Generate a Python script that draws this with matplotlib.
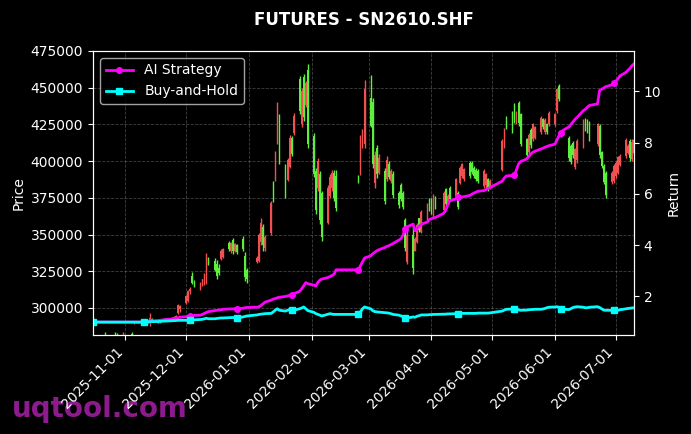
import numpy as np
import pandas as pd
import matplotlib
matplotlib.use('Agg')
import matplotlib.pyplot as plt
import matplotlib.dates as mdates
from matplotlib.ticker import MultipleLocator

# chart data (prices in thousands)
title = 'FUTURES - SN2610.SHF'
start_date = '2025-10-16'
end_date = '2026-07-10'
holidays = ['2026-01-01', '2026-01-02', '2026-02-16', '2026-02-17', '2026-02-18',
            '2026-02-19', '2026-02-20', '2026-02-23', '2026-04-06', '2026-05-01',
            '2026-05-04', '2026-05-05', '2026-06-19']

opens = [
    # Oct
    279.5, 278.6, 279.9, 280.8, 281.4, 280.2, 279.0, 281.5, 281.8, 280.9, 279.6, 281.1,
    # Nov
    281.2, 282.5, 289.5, 290.6, 290.0, 290.8, 290.2, 291.0, 290.4, 292.5,
    292.0, 290.2, 291.6, 292.2, 291.8, 292.0, 293.4, 294.0, 296.4, 299.0,
    # Dec
    303.6, 305.0, 311.8, 321.5, 317.0, 313.0, 316.0, 316.5, 318.0, 333.0, 332.0, 330.0,
    327.5, 333.5, 335.0, 344.0, 338.5, 346.0, 338.5, 343.0, 347.0, 335.5, 326.0,
    # Jan
    331.0, 332.0, 345.0, 355.0, 341.0, 351.0, 385.0, 387.0, 412.0, 430.0,
    396.0, 387.0, 396.0, 416.0, 419.0, 456.0, 425.0, 457.0, 438.0, 462.0,
    # Feb
    417.0, 393.0, 382.0, 391.0, 378.0, 358.0, 376.0, 382.0, 392.0, 390.0, 389.5, 391.0, 410.0, 412.0,
    # Mar
    443.0, 440.0, 385.0, 409.0, 392.0, 393.0, 388.0, 398.0, 386.5, 391.5, 378.0,
    384.0, 378.0, 360.0, 331.5, 350.0, 339.0, 345.0, 361.0, 352.0, 360.0, 374.0,
    # Apr
    373.5, 363.0, 375.0, 367.0, 381.0, 371.5, 382.0, 376.0, 378.5, 385.0, 390.0,
    387.5, 399.0, 398.5, 395.5, 394.0, 393.0, 383.0, 383.5, 387.5, 381.5,
    # May
    394.0, 410.0, 429.5, 433.0, 438.5, 426.0, 439.5, 432.0, 415.0,
    406.0, 421.5, 415.0, 416.0, 419.5, 428.5, 419.5, 425.0, 425.0,
    # Jun
    425.0, 434.0, 451.0, 419.5, 418.0, 416.0, 410.0, 412.5, 396.0, 400.5, 410.5,
    428.5, 427.5, 426.0, 411.5, 424.0, 406.0, 396.5, 392.0, 385.5, 386.5,
    # Jul
    390.0, 392.0, 397.5, 403.5, 405.5, 413.5, 401.5, 405.5,
]
highs = [
    281.0, 280.5, 281.2, 281.4, 283.4, 281.3, 281.0, 283.8, 283.0, 281.4, 281.3, 283.6,
    281.5, 283.4, 291.2, 291.4, 291.0, 291.5, 291.3, 291.8, 296.8, 293.5,
    292.6, 292.0, 292.8, 293.0, 293.2, 293.8, 294.5, 295.0, 302.7, 301.8,
    308.8, 312.5, 314.0, 324.5, 319.0, 317.5, 320.0, 323.5, 337.7, 334.5, 334.0, 332.5,
    330.0, 340.0, 341.0, 345.8, 345.0, 347.9, 344.5, 343.5, 349.0, 338.0, 327.5,
    335.5, 351.0, 361.5, 357.0, 350.0, 373.0, 386.5, 407.0, 440.0, 432.0,
    398.0, 402.0, 418.0, 417.0, 433.0, 458.0, 450.0, 459.0, 454.5, 466.0,
    419.0, 395.5, 402.0, 393.0, 380.0, 384.0, 391.0, 394.0, 394.0, 394.0, 390.5, 418.0, 422.0, 455.0,
    458.7, 443.0, 407.0, 411.0, 404.6, 395.5, 403.5, 400.0, 394.4, 393.0, 379.7,
    385.3, 379.7, 361.5, 352.4, 355.8, 348.5, 358.0, 361.5, 367.0, 371.7, 375.1,
    375.0, 377.4, 376.3, 379.7, 382.0, 377.4, 383.0, 388.7, 379.7, 396.7, 399.0,
    395.5, 400.0, 400.1, 396.7, 395.5, 394.4, 394.4, 392.1, 388.7, 387.6,
    414.8, 422.8, 430.7, 434.1, 439.8, 434.1, 441.0, 433.0, 416.0,
    419.4, 422.8, 426.2, 424.0, 430.7, 429.6, 429.6, 426.2, 434.0,
    433.0, 450.0, 452.3, 420.5, 420.5, 417.1, 411.4, 413.7, 409.2, 414.8, 428.5,
    429.6, 428.5, 427.3, 426.2, 425.0, 406.9, 397.8, 393.3, 393.3, 397.8,
    400.0, 403.5, 404.6, 416.0, 411.4, 414.8, 414.8, 416.0,
]
lows = [
    277.8, 276.9, 278.0, 279.4, 279.6, 278.3, 277.5, 280.0, 280.2, 278.9, 278.8, 280.2,
    279.8, 280.5, 289.3, 289.6, 289.5, 289.8, 289.6, 290.0, 288.0, 291.0,
    289.5, 289.8, 290.8, 291.2, 291.0, 291.4, 292.5, 293.0, 296.0, 297.4,
    303.0, 304.0, 309.5, 316.0, 314.0, 312.5, 315.0, 315.5, 316.0, 329.0, 325.0, 319.5,
    322.5, 333.0, 334.0, 338.8, 337.5, 336.5, 338.0, 336.5, 338.8, 318.5, 317.0,
    330.5, 331.0, 343.0, 339.0, 339.0, 350.0, 372.0, 386.5, 411.5, 398.0,
    375.0, 386.5, 395.5, 403.5, 418.0, 432.0, 423.0, 427.0, 437.0, 409.0,
    389.0, 364.0, 380.0, 357.0, 345.6, 357.0, 375.0, 380.0, 373.0, 366.0, 385.0, 390.5, 409.0, 409.0,
    423.0, 395.5, 382.0, 388.7, 391.0, 370.6, 386.5, 387.6, 385.3, 375.0, 368.3,
    372.8, 367.2, 338.8, 329.7, 322.9, 338.5, 344.0, 351.5, 351.0, 359.2, 366.0,
    363.8, 361.5, 367.2, 366.0, 369.4, 370.6, 372.9, 375.0, 367.2, 384.2, 388.7,
    386.5, 388.7, 391.0, 388.7, 386.5, 385.3, 381.9, 381.9, 379.7, 380.8,
    393.3, 409.2, 421.7, 419.4, 426.2, 425.0, 424.0, 410.3, 402.4,
    404.6, 409.2, 413.7, 414.8, 418.3, 421.7, 418.3, 418.3, 424.0,
    424.0, 433.0, 441.0, 416.5, 417.5, 400.0, 397.8, 402.4, 394.4, 399.0, 409.2,
    420.5, 419.4, 413.7, 410.3, 402.4, 395.5, 384.2, 375.1, 384.2, 385.3,
    388.7, 391.0, 396.7, 402.4, 404.6, 400.0, 400.0, 404.6,
]
closes = [
    278.6, 279.9, 280.8, 280.1, 280.2, 279.0, 280.4, 280.6, 280.9, 279.6, 281.1, 282.9,
    280.4, 281.0, 290.6, 290.0, 290.8, 290.2, 291.0, 290.4, 293.0, 291.5,
    290.2, 291.6, 292.2, 291.8, 292.6, 293.4, 294.0, 294.6, 302.0, 301.2,
    308.0, 311.8, 312.8, 317.0, 315.0, 317.0, 319.5, 322.8, 335.5, 330.0, 326.0, 322.0,
    324.0, 339.0, 340.0, 340.0, 344.0, 338.5, 343.5, 338.0, 340.5, 321.0, 319.5,
    334.0, 349.5, 358.0, 343.0, 348.0, 371.5, 374.0, 405.0, 436.0, 400.0,
    378.0, 400.5, 416.0, 405.0, 431.0, 434.0, 448.0, 430.0, 453.0, 412.0,
    391.0, 367.0, 400.0, 360.0, 348.0, 382.0, 389.5, 392.0, 375.0, 368.0, 386.0, 416.0, 420.0, 449.0,
    424.0, 398.0, 404.0, 391.0, 402.0, 373.0, 401.0, 389.0, 393.0, 377.0, 370.0,
    374.5, 369.0, 341.0, 350.0, 327.0, 347.0, 356.5, 353.0, 365.5, 370.5, 367.5,
    365.0, 376.0, 368.5, 378.5, 371.0, 376.5, 374.0, 387.5, 369.0, 395.5, 398.0,
    394.5, 390.0, 392.5, 390.0, 388.0, 386.5, 393.0, 391.0, 381.0, 386.5,
    413.5, 421.5, 423.0, 421.0, 428.0, 433.0, 426.0, 412.0, 404.0,
    418.0, 411.0, 425.0, 423.0, 429.5, 423.0, 428.0, 419.5, 433.0,
    432.0, 449.0, 442.5, 417.5, 419.8, 402.0, 399.5, 404.0, 408.0, 413.5, 427.0,
    422.0, 421.0, 415.0, 425.0, 404.0, 397.0, 386.0, 377.0, 392.0, 396.5,
    399.0, 402.5, 403.5, 414.5, 410.5, 402.0, 413.0, 414.5,
]

ai_strategy = [
    1.00, 1.00, 1.00, 1.00, 1.00, 1.00, 1.00, 1.00, 1.00, 1.00, 1.00, 1.00,
    1.00, 1.00, 1.00, 1.00, 1.00, 1.00, 1.00, 1.02, 1.05, 1.05,
    1.06, 1.07, 1.08, 1.09, 1.10, 1.12, 1.14, 1.15, 1.17, 1.19,
    1.21, 1.23, 1.25, 1.25, 1.26, 1.27, 1.30, 1.34, 1.38, 1.41, 1.45, 1.46,
    1.47, 1.48, 1.50, 1.51, 1.51, 1.52, 1.52, 1.53, 1.54, 1.56, 1.57,
    1.58, 1.60, 1.65, 1.72, 1.78, 1.86, 1.90, 1.92, 1.95, 1.97,
    2.00, 2.02, 2.04, 2.06, 2.10, 2.20, 2.30, 2.42, 2.54, 2.50,
    2.44, 2.41, 2.55, 2.64, 2.68, 2.74, 2.78, 2.82, 2.87, 3.04, 3.04, 3.20, 3.35, 3.50,
    3.58, 3.66, 3.72, 3.78, 3.82, 3.91, 3.95, 3.98, 4.02, 4.06, 4.20,
    4.25, 4.40, 4.62, 4.72, 4.82, 4.56, 4.65, 4.75, 4.82, 4.90, 5.00,
    5.03, 5.06, 5.08, 5.24, 5.35, 5.55, 5.73, 5.80, 5.86, 5.87, 5.88,
    5.89, 5.94, 5.99, 6.03, 6.07, 6.10, 6.13, 6.17, 6.21, 6.25,
    6.50, 6.62, 6.70, 6.72, 6.73, 6.95, 7.16, 7.26, 7.36,
    7.45, 7.55, 7.62, 7.66, 7.75, 7.78, 7.82, 7.85, 7.88,
    7.94, 8.10, 8.27, 8.38, 8.48, 8.62, 8.72, 8.82, 8.92, 8.99, 9.25,
    9.30, 9.38, 9.45, 9.51, 10.03, 10.08, 10.13, 10.18, 10.25, 10.32,
    10.40, 10.48, 10.60, 10.74, 10.82, 10.90, 11.00, 11.07,
]
buy_and_hold = [
    1.00, 1.00, 1.00, 1.00, 1.00, 1.00, 1.00, 1.00, 1.00, 1.00, 1.00, 1.00,
    1.00, 1.00, 1.00, 1.00, 1.00, 1.00, 1.00, 1.01, 1.02, 1.02,
    1.02, 1.03, 1.03, 1.04, 1.04, 1.05, 1.05, 1.06, 1.07, 1.07,
    1.07, 1.08, 1.08, 1.09, 1.09, 1.10, 1.11, 1.13, 1.15, 1.13, 1.13, 1.14,
    1.15, 1.16, 1.16, 1.17, 1.17, 1.18, 1.17, 1.17, 1.20, 1.22, 1.24,
    1.28, 1.30, 1.31, 1.32, 1.33, 1.34, 1.40, 1.47, 1.52, 1.46,
    1.43, 1.46, 1.49, 1.48, 1.46, 1.52, 1.55, 1.59, 1.52, 1.45,
    1.38, 1.33, 1.30, 1.27, 1.24, 1.31, 1.33, 1.31, 1.30, 1.30, 1.30, 1.40, 1.52, 1.59,
    1.52, 1.45, 1.41, 1.40, 1.39, 1.37, 1.36, 1.35, 1.33, 1.30, 1.27,
    1.24, 1.22, 1.17, 1.16, 1.20, 1.19, 1.23, 1.25, 1.28, 1.28, 1.29,
    1.29, 1.30, 1.30, 1.31, 1.31, 1.32, 1.32, 1.33, 1.33, 1.33, 1.34,
    1.34, 1.34, 1.34, 1.34, 1.34, 1.35, 1.35, 1.35, 1.35, 1.36,
    1.43, 1.47, 1.50, 1.51, 1.52, 1.50, 1.48, 1.46, 1.47,
    1.48, 1.49, 1.49, 1.50, 1.50, 1.51, 1.53, 1.56, 1.58,
    1.59, 1.60, 1.57, 1.53, 1.50, 1.49, 1.53, 1.57, 1.59, 1.60, 1.58,
    1.56, 1.56, 1.58, 1.60, 1.57, 1.52, 1.47, 1.46, 1.46, 1.47,
    1.47, 1.46, 1.48, 1.52, 1.53, 1.54, 1.55, 1.56,
]

# trading days (weekdays minus exchange holidays)
dates = pd.bdate_range(start_date, end_date)
dates = dates[~dates.isin(pd.to_datetime(holidays))]

o = np.array(opens) * 1000
h = np.array(highs) * 1000
l = np.array(lows) * 1000
c = np.array(closes) * 1000

up_color = '#f05050'
down_color = '#5cf03c'
colors = np.where(c >= o, up_color, down_color)

plt.style.use('dark_background')
fig, ax1 = plt.subplots(figsize=(6.91, 4.34), dpi=100)
fig.subplots_adjust(left=0.1346, right=0.9175, bottom=0.2281, top=0.8825)

# candles
ax1.vlines(dates, l, h, colors=colors, linewidth=1.0)
ax1.bar(dates, np.maximum(np.abs(c - o), 300), bottom=np.minimum(o, c),
        width=0.8, color=colors, linewidth=0)
ax1.set_ylim(281600, 475000)
ax1.yaxis.set_major_locator(MultipleLocator(25000))
ax1.set_ylabel('Price', fontsize=10)
ax1.grid(True, linestyle='--', linewidth=0.6, alpha=0.25)
ax1.set_xlim(dates[0], dates[-1])
ax1.xaxis.set_major_locator(mdates.MonthLocator())
ax1.xaxis.set_major_formatter(mdates.DateFormatter('%Y-%m-%d'))
plt.setp(ax1.get_xticklabels(), rotation=45, ha='right')
ax1.set_title(title, fontsize=12, fontweight='bold', pad=19)

# returns
ax2 = ax1.twinx()
ax2.plot(dates, ai_strategy, color='magenta', linewidth=2, marker='o',
         markersize=4, markevery=17, label='AI Strategy')
ax2.plot(dates, buy_and_hold, color='cyan', linewidth=2, marker='s',
         markersize=4, markevery=17, label='Buy-and-Hold')
ax2.set_ylabel('Return', fontsize=10)
ax2.legend(loc='upper left', fontsize=10)

fig.text(12 / 691, 17 / 434, 'uqtool.com', fontsize=20, fontweight='bold',
         color='#8e1b8e', ha='left', va='baseline', zorder=-1)

fig.savefig('out.png', dpi=100, facecolor='black')
